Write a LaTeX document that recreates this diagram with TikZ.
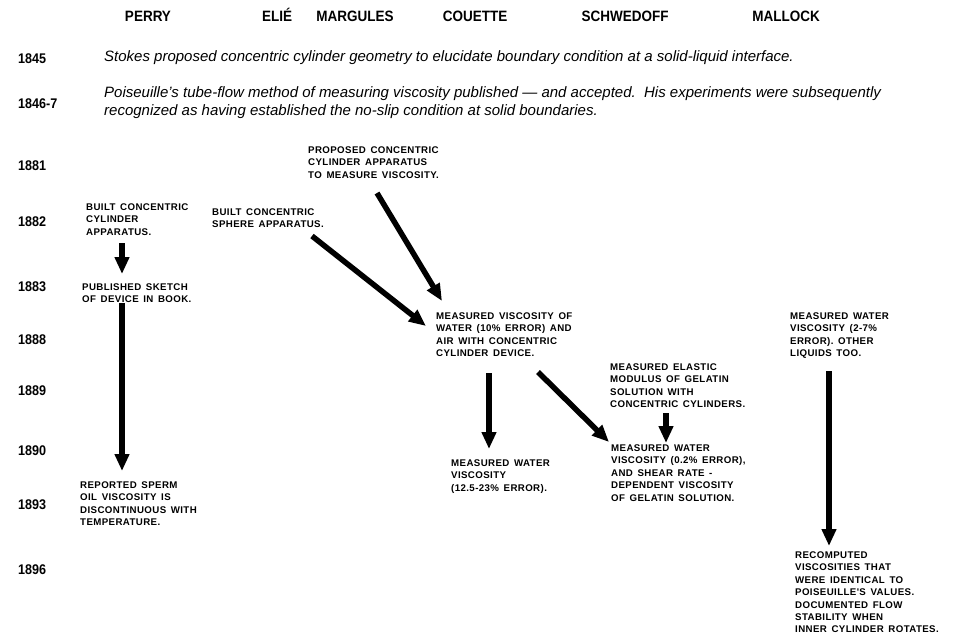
\documentclass[tikz,border=0pt]{standalone}
\usepackage{fontspec}
\setmainfont{Liberation Sans}
\newfontfamily\headfont[FakeStretch=0.9]{Liberation Sans Bold}
\newfontfamily\notefont[LetterSpace=4,WordSpace=1.5]{Liberation Sans Bold}
\usetikzlibrary{arrows.meta}

\begin{document}
\begin{tikzpicture}[x=1pt,y=-1pt,
    every node/.style={inner sep=0pt},
    head/.style={font=\headfont\fontsize{15}{17}\selectfont, anchor=base},
    year/.style={font=\headfont\fontsize{14}{16}\selectfont, anchor=west},
    story/.style={font=\itshape\fontsize{15}{18}\selectfont, anchor=west, align=left},
    note/.style={font=\notefont\fontsize{9.7}{12.4}\selectfont, anchor=north west, align=left},
    bigarrow/.style={line width=5.5pt, -{Triangle[width=14pt,length=17pt]}}]
  \useasboundingbox (0,0) rectangle (956,643);

  % scientists
  \node[head] (perry)     at (148,21) {PERRY};
  \node[head] (elie)      at (277,21) {ELIÉ};
  \node[head] (margules)  at (355,21) {MARGULES};
  \node[head] (couette)   at (475,21) {COUETTE};
  \node[head] (schwedoff) at (625,21) {SCHWEDOFF};
  \node[head] (mallock)   at (786,21) {MALLOCK};

  % years
  \node[year] (y1845) at (18,59)  {1845};
  \node[year] (y1846) at (18,104) {1846-7};
  \node[year] (y1881) at (18,166) {1881};
  \node[year] (y1882) at (18,222) {1882};
  \node[year] (y1883) at (18,287) {1883};
  \node[year] (y1888) at (18,340) {1888};
  \node[year] (y1889) at (18,391) {1889};
  \node[year] (y1890) at (18,451) {1890};
  \node[year] (y1893) at (18,505) {1893};
  \node[year] (y1896) at (18,570) {1896};

  \node[story] (stokes) at (104,58)
    {Stokes proposed concentric cylinder geometry to elucidate boundary condition at a solid-liquid interface.};
  \node[story] (poiseuille) at (104,103)
    {Poiseuille's tube-flow method of measuring viscosity published — and accepted.\ \ His experiments were subsequently\\
     recognized as having established the no-slip condition at solid boundaries.};

  % Perry
  \node[note] (perry1) at (86,203.5) {BUILT CONCENTRIC\\CYLINDER\\APPARATUS.};
  \node[note] (perry2) at (82,283.5) {PUBLISHED SKETCH\\OF DEVICE IN BOOK.};
  \node[note] (perry3) at (80,481.5) {REPORTED SPERM\\OIL VISCOSITY IS\\DISCONTINUOUS WITH\\TEMPERATURE.};
  % Elie
  \node[note] (elie1) at (212,208.5) {BUILT CONCENTRIC\\SPHERE APPARATUS.};
  % Margules
  \node[note] (marg1) at (308,146.5) {PROPOSED CONCENTRIC\\CYLINDER APPARATUS\\TO MEASURE VISCOSITY.};
  % Couette
  \node[note] (cou1) at (436,312.5) {MEASURED VISCOSITY OF\\WATER (10\% ERROR) AND\\AIR WITH CONCENTRIC\\CYLINDER DEVICE.};
  \node[note] (cou2) at (451,459.5) {MEASURED WATER\\VISCOSITY\\(12.5-23\% ERROR).};
  % Schwedoff
  \node[note] (sch1) at (610,363.5) {MEASURED ELASTIC\\MODULUS OF GELATIN\\SOLUTION WITH\\CONCENTRIC CYLINDERS.};
  \node[note] (sch2) at (611,444.5) {MEASURED WATER\\VISCOSITY (0.2\% ERROR),\\AND SHEAR RATE -\\DEPENDENT VISCOSITY\\OF GELATIN SOLUTION.};
  % Mallock
  \node[note] (mal1) at (790,312.5) {MEASURED WATER\\VISCOSITY (2-7\%\\ERROR). OTHER\\LIQUIDS TOO.};
  \node[note] (mal2) at (795,551.5) {RECOMPUTED\\VISCOSITIES THAT\\WERE IDENTICAL TO\\POISEUILLE'S VALUES.\\DOCUMENTED FLOW\\STABILITY WHEN\\INNER CYLINDER ROTATES.};

  % arrow ends
  \coordinate (perry1-out) at (122,243);
  \coordinate (perry2-in)  at (122,274);
  \coordinate (perry2-out) at (122,303);
  \coordinate (perry3-in)  at (122,471);
  \coordinate (elie1-out)  at (312,236);
  \coordinate (cou1-in1)   at (426,326);
  \coordinate (marg1-out)  at (377,193);
  \coordinate (cou1-in2)   at (442,301);
  \coordinate (cou1-out1)  at (489,373);
  \coordinate (cou2-in)    at (489,449);
  \coordinate (cou1-out2)  at (538,372);
  \coordinate (sch2-in1)   at (609,442);
  \coordinate (sch1-out)   at (666,413);
  \coordinate (sch2-in2)   at (666,443);
  \coordinate (mal1-out)   at (829,371);
  \coordinate (mal2-in)    at (829,546);

  \draw[bigarrow] (perry1-out) -- (perry2-in);
  \draw[bigarrow] (perry2-out) -- (perry3-in);
  \draw[bigarrow] (elie1-out) -- (cou1-in1);
  \draw[bigarrow] (marg1-out) -- (cou1-in2);
  \draw[bigarrow] (cou1-out1) -- (cou2-in);
  \draw[bigarrow] (cou1-out2) -- (sch2-in1);
  \draw[bigarrow] (sch1-out) -- (sch2-in2);
  \draw[bigarrow] (mal1-out) -- (mal2-in);
\end{tikzpicture}
\end{document}
